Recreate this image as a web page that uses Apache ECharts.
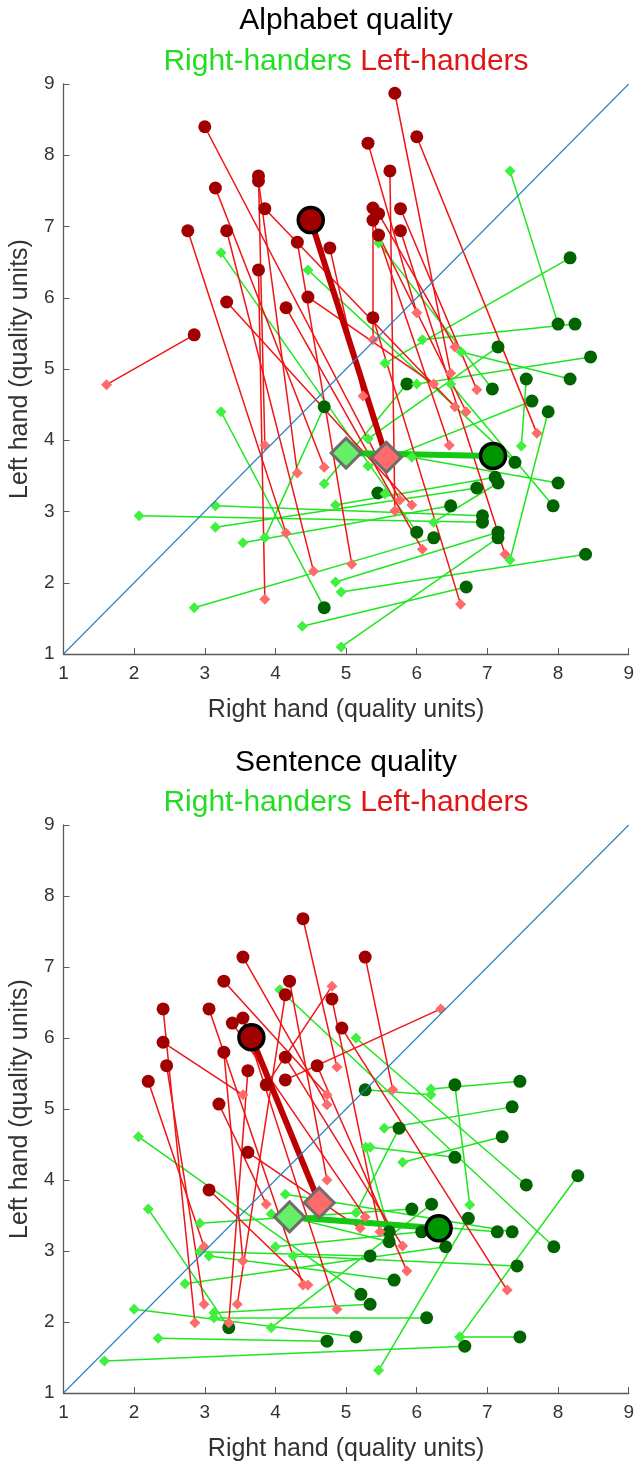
<!DOCTYPE html>
<html>
<head>
<meta charset="utf-8">
<script src="https://cdn.jsdelivr.net/npm/echarts@6/dist/echarts.min.js"></script>
<style>
html,body{margin:0;padding:0;background:#fff;}
#chart{width:637px;height:1465px;}
</style>
</head>
<body>
<div id="chart"></div>
<script>
// ---------- DATA ----------
const axisTicks = [1, 2, 3, 4, 5, 6, 7, 8, 9];
const panelTitles = ['Alphabet quality', 'Sentence quality'];
const groupNames = ['Right-handers', 'Left-handers'];
const xAxisName = 'Right hand (quality units)';
const yAxisName = 'Left hand (quality units)';

// Alphabet quality — left-handers (circle i paired with diamond i)
const alphaLeftCircle = [[3.00,8.40],[2.85,5.48],[2.76,6.94],[3.31,6.94],[3.76,6.39],[6.00,8.26],[5.69,8.87],[5.31,8.17],[5.62,7.78],[3.76,7.71],[3.76,7.64],[3.15,7.54],[3.85,7.25],[4.31,6.78],[4.77,6.70],[4.46,6.01],[3.31,5.94],[4.15,5.86],[5.38,5.72],[5.38,7.26],[5.46,7.18],[5.38,7.09],[5.77,7.25],[5.46,6.88],[5.77,6.94]];
const alphaLeftDiamond = [[5.76,3.16],[1.61,4.78],[4.15,2.70],[4.54,2.16],[3.85,1.77],[7.70,4.10],[6.48,4.94],[6.00,5.79],[5.69,3.01],[3.85,3.93],[4.31,3.54],[4.69,3.62],[6.54,4.47],[5.08,2.26],[5.24,4.62],[6.24,4.79],[5.93,3.09],[6.08,2.47],[6.62,1.70],[5.38,5.41],[6.54,5.31],[6.46,3.93],[6.85,4.71],[6.70,4.40],[7.25,2.40]];
// Alphabet quality — right-handers
const alphaRightCircle = [[8.00,5.63],[8.24,5.63],[8.17,6.56],[7.15,5.31],[8.46,5.17],[4.69,4.47],[4.69,1.65],[5.86,4.79],[7.07,4.72],[7.55,4.86],[8.17,4.86],[7.63,4.55],[7.86,4.40],[7.39,3.69],[7.11,3.48],[7.15,3.40],[6.85,3.33],[8.00,3.40],[7.93,3.08],[5.45,3.26],[6.48,3.08],[6.93,2.94],[6.93,2.85],[6.00,2.71],[6.24,2.63],[7.15,2.71],[7.15,2.63],[8.39,2.40],[6.70,1.94]];
const alphaRightDiamond = [[7.32,7.78],[6.08,5.41],[5.55,5.08],[5.31,4.02],[6.00,4.79],[3.85,2.63],[3.23,4.40],[4.69,3.39],[5.46,6.77],[7.48,3.92],[6.63,5.24],[5.31,3.64],[7.32,2.32],[4.46,6.39],[4.85,3.09],[6.24,2.85],[3.15,2.78],[5.93,3.76],[6.48,4.79],[5.55,3.25],[3.54,2.56],[3.15,3.08],[2.07,2.94],[3.23,6.63],[2.85,1.65],[4.85,2.01],[4.93,1.10],[4.93,1.87],[4.38,1.39]];
// Alphabet quality — group means [circle, diamond]
const alphaLeftMean = [[4.50,7.09],[5.57,3.76]];
const alphaRightMean = [[7.08,3.78],[5.00,3.82]];

// Sentence quality — left-handers
const sentLeftCircle = [[4.39,7.68],[5.27,7.14],[3.54,7.14],[3.27,6.80],[4.20,6.80],[4.14,6.61],[4.80,6.55],[4.94,6.14],[2.41,6.41],[3.06,6.41],[3.54,6.28],[3.39,6.21],[2.41,5.94],[3.27,5.80],[2.46,5.61],[3.61,5.54],[4.14,5.73],[2.20,5.39],[4.14,5.41],[4.59,5.61],[3.87,5.34],[3.20,5.07],[3.61,4.39],[3.06,3.86]];
const sentLeftDiamond = [[4.87,5.59],[5.66,5.27],[4.73,5.06],[4.73,5.20],[4.73,4.00],[3.46,2.25],[5.48,3.27],[7.28,2.45],[2.86,1.99],[4.39,2.52],[4.87,2.18],[5.27,3.48],[3.54,5.20],[3.54,2.86],[2.99,2.25],[3.34,1.99],[5.80,3.07],[2.99,3.06],[6.34,6.41],[5.86,2.72],[4.80,6.73],[3.87,3.66],[5.20,3.32],[4.46,2.52]];
// Sentence quality — right-handers
const sentRightCircle = [[5.27,5.27],[6.54,5.34],[7.46,5.39],[7.35,5.03],[5.75,4.73],[7.21,4.61],[6.54,4.32],[7.55,3.93],[8.28,4.06],[6.21,3.66],[5.93,3.59],[6.73,3.46],[7.14,3.27],[7.35,3.27],[7.94,3.06],[5.61,3.27],[5.61,3.13],[6.07,3.27],[6.41,3.06],[5.34,2.93],[7.42,2.79],[5.68,2.59],[5.21,2.39],[5.34,2.25],[6.14,2.06],[5.14,1.79],[6.68,1.66],[7.46,1.79],[3.34,1.92],[4.73,1.73]];
const sentRightDiamond = [[6.20,5.20],[6.75,3.65],[6.20,5.28],[5.54,4.73],[5.14,3.54],[5.80,4.25],[5.34,4.46],[5.14,6.00],[6.61,1.79],[3.94,1.92],[2.93,3.39],[5.46,1.32],[3.94,3.52],[4.14,3.80],[4.06,6.68],[5.28,4.46],[4.20,3.48],[4.00,3.06],[2.72,2.54],[2.93,2.99],[4.25,2.93],[3.06,2.93],[2.06,4.61],[3.13,2.13],[3.13,2.06],[2.00,2.18],[1.58,1.45],[6.61,1.79],[2.20,3.59],[2.34,1.77]];
const sentLeftMean = [[3.66,6.01],[4.62,3.68]];
const sentRightMean = [[6.31,3.32],[4.20,3.48]];

// ---------- STYLE ----------
const FONT = '"Liberation Sans", Arial, Helvetica, sans-serif';
const C = {
  redLine: '#f01414', redCircle: '#a00000', redDiamond: '#ff6b6b',
  greenLine: '#1ee61e', greenCircle: '#006400', greenDiamond: '#40f040',
  redMeanLine: '#c00000', greenMeanLine: '#14c814',
  redMeanCircle: '#a00000', redMeanDiamond: '#ff6b6b',
  greenMeanCircle: '#009600', greenMeanDiamond: '#66f066',
  diag: '#2a7fc0', axis: '#5a5a5a', text: '#333333'
};

const panels = [
  {lc: alphaLeftCircle, ld: alphaLeftDiamond, rc: alphaRightCircle, rd: alphaRightDiamond, lm: alphaLeftMean, rm: alphaRightMean},
  {lc: sentLeftCircle, ld: sentLeftDiamond, rc: sentRightCircle, rd: sentRightDiamond, lm: sentLeftMean, rm: sentRightMean}
];

function pairs(a, b) { return a.map((p, i) => ({coords: [p, b[i]]})); }

const grids = [
  {left: 62, top: 84, width: 568, height: 570},
  {left: 62, top: 825, width: 568, height: 568}
];

const xAxes = grids.map((g, i) => ({
  gridIndex: i, type: 'value', min: axisTicks[0], max: axisTicks[axisTicks.length - 1], interval: 1,
  name: xAxisName, nameLocation: 'middle', nameGap: 44,
  nameTextStyle: {fontSize: 25, color: C.text, fontFamily: FONT},
  axisLine: {show: true, onZero: false, lineStyle: {color: C.axis, width: 1.3}},
  axisTick: {show: true, inside: true, length: 6, lineStyle: {color: C.axis}},
  axisLabel: {fontSize: 19, color: C.text, fontFamily: FONT, margin: 10},
  splitLine: {show: false}
}));
const yAxes = grids.map((g, i) => ({
  gridIndex: i, type: 'value', min: axisTicks[0], max: axisTicks[axisTicks.length - 1], interval: 1,
  name: yAxisName, nameLocation: 'middle', nameGap: 22,
  nameTextStyle: {fontSize: 25, color: C.text, fontFamily: FONT},
  axisLine: {show: true, onZero: false, lineStyle: {color: C.axis, width: 1.3}},
  axisTick: {show: true, inside: true, length: 6, lineStyle: {color: C.axis}},
  axisLabel: {fontSize: 19, color: C.text, fontFamily: FONT, margin: 9},
  splitLine: {show: false}
}));

const series = [];
panels.forEach((p, i) => {
  const ax = {xAxisIndex: i, yAxisIndex: i};
  series.push(Object.assign({type: 'line', data: [[axisTicks[0], axisTicks[0]], [axisTicks[8], axisTicks[8]]], symbol: 'none',
    lineStyle: {color: C.diag, width: 1.1}, silent: true}, ax));
  series.push(Object.assign({type: 'lines', coordinateSystem: 'cartesian2d', data: pairs(p.rc, p.rd),
    lineStyle: {color: C.greenLine, width: 1.5, opacity: 1}}, ax));
  series.push(Object.assign({type: 'scatter', data: p.rc, symbol: 'circle', symbolSize: 13,
    itemStyle: {color: C.greenCircle, opacity: 1}}, ax));
  series.push(Object.assign({type: 'scatter', data: p.rd, symbol: 'diamond', symbolSize: 11,
    itemStyle: {color: C.greenDiamond, opacity: 1}}, ax));
  series.push(Object.assign({type: 'lines', coordinateSystem: 'cartesian2d', data: pairs(p.lc, p.ld),
    lineStyle: {color: C.redLine, width: 1.5, opacity: 1}}, ax));
  series.push(Object.assign({type: 'scatter', data: p.lc, symbol: 'circle', symbolSize: 13,
    itemStyle: {color: C.redCircle, opacity: 1}}, ax));
  series.push(Object.assign({type: 'scatter', data: p.ld, symbol: 'diamond', symbolSize: 11,
    itemStyle: {color: C.redDiamond, opacity: 1}}, ax));
  // means
  series.push(Object.assign({type: 'lines', coordinateSystem: 'cartesian2d', data: [{coords: p.lm}],
    lineStyle: {color: C.redMeanLine, width: 6, opacity: 1}}, ax));
  series.push(Object.assign({type: 'lines', coordinateSystem: 'cartesian2d', data: [{coords: p.rm}],
    lineStyle: {color: C.greenMeanLine, width: 6, opacity: 1}}, ax));
  series.push(Object.assign({type: 'scatter', data: [p.lm[0]], symbol: 'circle', symbolSize: 25,
    itemStyle: {color: C.redMeanCircle, borderColor: '#000', borderWidth: 3.5, opacity: 1}}, ax));
  series.push(Object.assign({type: 'scatter', data: [p.rm[0]], symbol: 'circle', symbolSize: 25,
    itemStyle: {color: C.greenMeanCircle, borderColor: '#000', borderWidth: 3.5, opacity: 1}}, ax));
  series.push(Object.assign({type: 'scatter', data: [p.rm[1]], symbol: 'diamond', symbolSize: 30,
    itemStyle: {color: C.greenMeanDiamond, borderColor: '#6e6e6e', borderWidth: 3, opacity: 1}}, ax));
  series.push(Object.assign({type: 'scatter', data: [p.lm[1]], symbol: 'diamond', symbolSize: 30,
    itemStyle: {color: C.redMeanDiamond, borderColor: '#6e6e6e', borderWidth: 3, opacity: 1}}, ax));
});

const titleTops = [[6, 47], [748, 788]];
const titles = [];
panelTitles.forEach((t, i) => {
  titles.push({text: t, left: 346, top: titleTops[i][0], textAlign: 'center', padding: 0,
    textStyle: {fontSize: 30, fontWeight: 'normal', color: '#000', fontFamily: FONT}});
  titles.push({text: '{g|' + groupNames[0] + '} {r|' + groupNames[1] + '}', left: 346, top: titleTops[i][1], textAlign: 'center', padding: 0,
    textStyle: {fontSize: 30, fontWeight: 'normal', fontFamily: FONT,
      rich: {g: {color: '#22dd22', fontSize: 30, fontFamily: FONT}, r: {color: '#e01515', fontSize: 30, fontFamily: FONT}}}});
});

const chart = echarts.init(document.getElementById('chart'), null, {renderer: 'canvas'});
chart.setOption({
  animation: false,
  backgroundColor: '#fff',
  title: titles,
  grid: grids,
  xAxis: xAxes,
  yAxis: yAxes,
  series: series
});
</script>
</body>
</html>
